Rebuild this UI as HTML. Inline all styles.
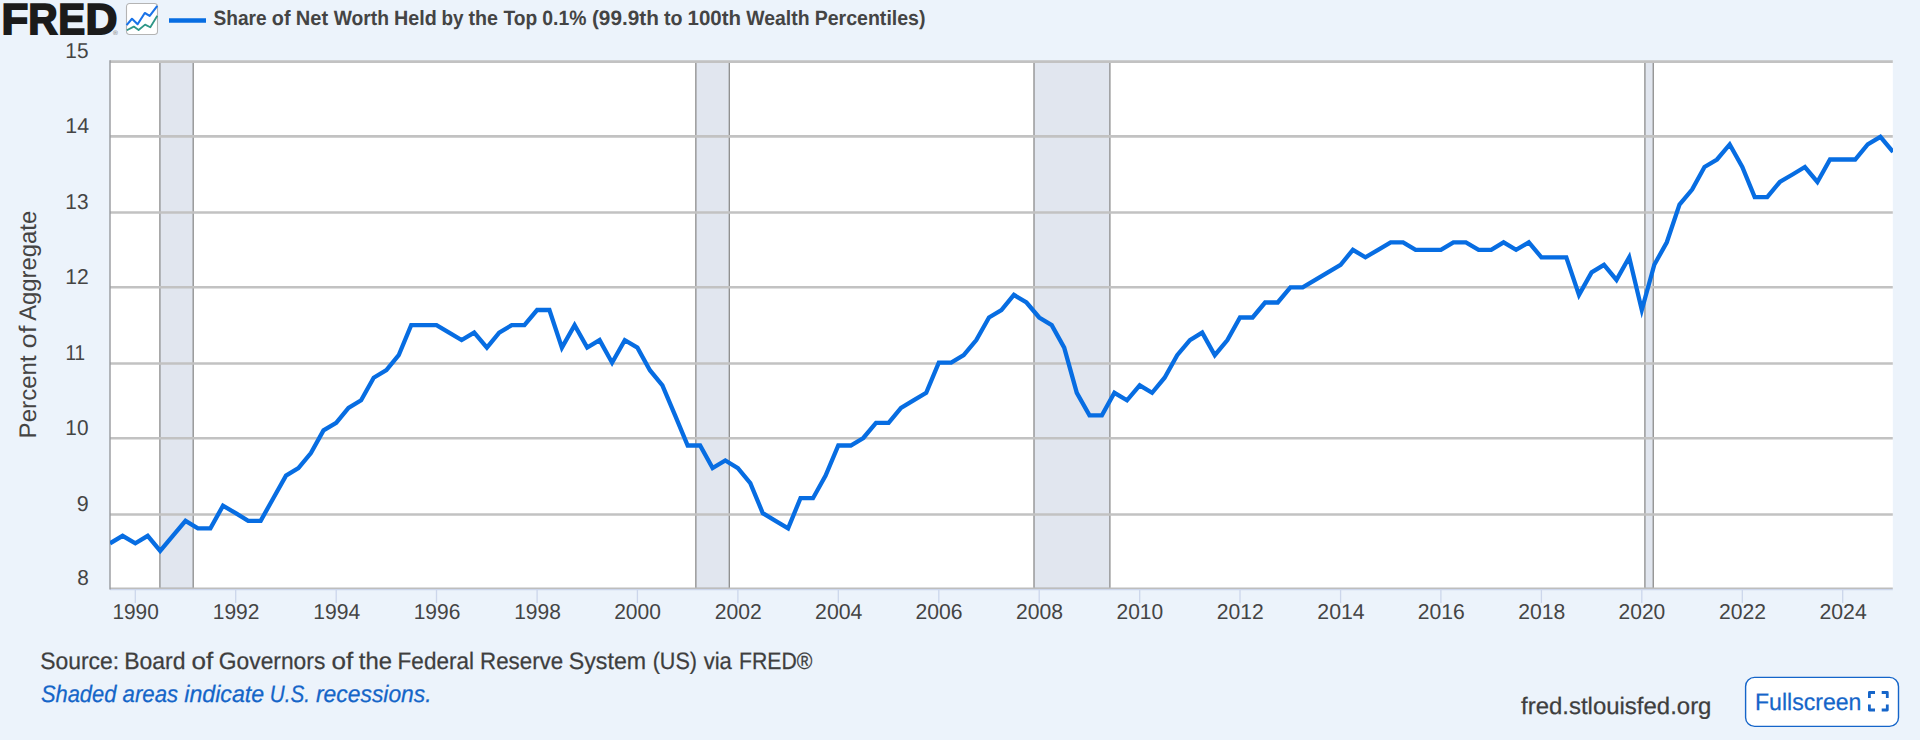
<!DOCTYPE html>
<html lang="en">
<head>
<meta charset="utf-8">
<title>Share of Net Worth Held by the Top 0.1% | FRED</title>
<style>
html,body{margin:0;padding:0;}
body{width:1920px;height:740px;overflow:hidden;background:#ecf3fb;font-family:"Liberation Sans",sans-serif;position:relative;}
#chart{position:absolute;left:0;top:0;width:1920px;height:740px;display:block;}
#chart text{font-family:"Liberation Sans",sans-serif;text-rendering:geometricPrecision;}
#fullscreen{position:absolute;left:1745px;top:676.5px;width:154px;height:50.5px;box-sizing:border-box;border:0;border-radius:9.5px;background:#fff;padding:0;margin:0;}
</style>
</head>
<body>
<button id="fullscreen" type="button" aria-label="Fullscreen"></button>
<svg id="chart" width="1920" height="740" viewBox="0 0 1920 740">
  <!-- header -->
  <g id="logo">
    <text y="33.8" font-weight="700" font-size="43.3" fill="#1b1b1b" stroke="#1b1b1b" stroke-width="1.8"><tspan x="1.58" textLength="26.82" lengthAdjust="spacingAndGlyphs">F</tspan><tspan x="28.34" textLength="29.45" lengthAdjust="spacingAndGlyphs">R</tspan><tspan x="58.37" textLength="26.92" lengthAdjust="spacingAndGlyphs">E</tspan><tspan x="85.60" textLength="31.96" lengthAdjust="spacingAndGlyphs">D</tspan></text>
    <text x="113" y="35" font-size="6.5" fill="#777">®</text>
  </g>
  <g id="icon">
    <rect x="126.5" y="3.5" width="31" height="31" rx="3.2" fill="#fff" stroke="#b4b4b4" stroke-width="1.1"/>
    <polyline points="126.6,25.1 132,18.8 137.6,24.2 144.8,13 149.7,15.9 157.3,5.9" fill="none" stroke="#1a73e8" stroke-width="2.1" stroke-linejoin="round"/>
    <polyline points="126.8,30.3 133.8,26.6 138.6,30 145.1,24.6 150.3,27.3 157.3,15.7" fill="none" stroke="#2e9687" stroke-width="1.8" stroke-linejoin="round"/>
  </g>
  <line x1="169" x2="206" y1="20.5" y2="20.5" stroke="#076de2" stroke-width="4.6"/>
  <text y="24.7" font-weight="700" font-size="20.7" fill="#444"><tspan x="213.55" textLength="53.10" lengthAdjust="spacingAndGlyphs">Share</tspan> <tspan x="271.79" textLength="18.70" lengthAdjust="spacingAndGlyphs">of</tspan> <tspan x="295.80" textLength="32.33" lengthAdjust="spacingAndGlyphs">Net</tspan> <tspan x="333.66" textLength="55.33" lengthAdjust="spacingAndGlyphs">Worth</tspan> <tspan x="394.10" textLength="42.75" lengthAdjust="spacingAndGlyphs">Held</tspan> <tspan x="441.44" textLength="22.09" lengthAdjust="spacingAndGlyphs">by</tspan> <tspan x="468.50" textLength="29.48" lengthAdjust="spacingAndGlyphs">the</tspan> <tspan x="503.40" textLength="33.74" lengthAdjust="spacingAndGlyphs">Top</tspan> <tspan x="542.29" textLength="44.12" lengthAdjust="spacingAndGlyphs">0.1%</tspan> <tspan x="591.96" textLength="66.92" lengthAdjust="spacingAndGlyphs">(99.9th</tspan> <tspan x="663.88" textLength="18.52" lengthAdjust="spacingAndGlyphs">to</tspan> <tspan x="687.54" textLength="53.46" lengthAdjust="spacingAndGlyphs">100th</tspan> <tspan x="746.33" textLength="63.22" lengthAdjust="spacingAndGlyphs">Wealth</tspan> <tspan x="814.68" textLength="110.83" lengthAdjust="spacingAndGlyphs">Percentiles)</tspan></text>
  <!-- plot -->
  <rect x="110" y="61.6" width="1782.8" height="526.9" fill="#fff"/>
  <g fill="#e1e6ef" stroke="#8c8c8c" stroke-width="1.3"><rect x="159.90" y="61.6" width="33.30" height="526.9"/><rect x="695.85" y="61.6" width="33.45" height="526.9"/><rect x="1034.00" y="61.6" width="75.90" height="526.9"/><rect x="1644.90" y="61.6" width="8.35" height="526.9"/></g>
  <g stroke="#c2c2c2" stroke-width="2.6"><line x1="110.0" x2="1892.8" y1="514.5" y2="514.5"/><line x1="110.0" x2="1892.8" y1="438.3" y2="438.3"/><line x1="110.0" x2="1892.8" y1="363.5" y2="363.5"/><line x1="110.0" x2="1892.8" y1="287.3" y2="287.3"/><line x1="110.0" x2="1892.8" y1="212.5" y2="212.5"/><line x1="110.0" x2="1892.8" y1="136.4" y2="136.4"/><line x1="110.0" x2="1892.8" y1="61.6" y2="61.6"/></g>
  <line x1="110" x2="1892.8" y1="588.2" y2="588.2" stroke="#bdbdbd" stroke-width="1.4"/>
  <line x1="110" x2="1892.8" y1="589.6" y2="589.6" stroke="#ccd6eb" stroke-width="1.3"/>
  <line x1="110" x2="110" y1="60.3" y2="589.6" stroke="#97999d" stroke-width="1.4"/>
  <g stroke="#ccd6eb" stroke-width="1.3"><line x1="135.3" x2="135.3" y1="590" y2="603"/><line x1="235.7" x2="235.7" y1="590" y2="603"/><line x1="336.2" x2="336.2" y1="590" y2="603"/><line x1="436.5" x2="436.5" y1="590" y2="603"/><line x1="537.1" x2="537.1" y1="590" y2="603"/><line x1="637.4" x2="637.4" y1="590" y2="603"/><line x1="737.9" x2="737.9" y1="590" y2="603"/><line x1="838.3" x2="838.3" y1="590" y2="603"/><line x1="938.8" x2="938.8" y1="590" y2="603"/><line x1="1039.2" x2="1039.2" y1="590" y2="603"/><line x1="1139.7" x2="1139.7" y1="590" y2="603"/><line x1="1240.0" x2="1240.0" y1="590" y2="603"/><line x1="1340.6" x2="1340.6" y1="590" y2="603"/><line x1="1440.9" x2="1440.9" y1="590" y2="603"/><line x1="1541.4" x2="1541.4" y1="590" y2="603"/><line x1="1641.8" x2="1641.8" y1="590" y2="603"/><line x1="1742.3" x2="1742.3" y1="590" y2="603"/><line x1="1842.7" x2="1842.7" y1="590" y2="603"/></g>
  <clipPath id="plotclip"><rect x="110" y="55" width="1783" height="540"/></clipPath>
  <path d="M110.0 543.3 L122.6 535.8 L135.3 543.3 L147.7 535.8 L160.2 550.9 L172.8 535.8 L185.5 520.8 L197.9 528.3 L210.4 528.3 L223.0 505.7 L235.7 513.2 L248.2 520.8 L260.7 520.8 L273.3 498.2 L286.0 475.6 L298.4 468.1 L310.9 453.0 L323.5 430.4 L336.2 422.9 L348.5 407.9 L361.1 400.3 L373.7 377.7 L386.4 370.2 L398.7 355.2 L411.2 325.1 L423.9 325.1 L436.5 325.1 L449.1 332.6 L461.6 340.1 L474.2 332.6 L486.9 347.6 L499.2 332.6 L511.8 325.1 L524.4 325.1 L537.1 310.0 L549.4 310.0 L561.9 347.6 L574.6 325.1 L587.2 347.6 L599.6 340.1 L612.1 362.7 L624.8 340.1 L637.4 347.6 L649.9 370.2 L662.4 385.3 L675.1 415.4 L687.7 445.5 L700.1 445.5 L712.6 468.1 L725.3 460.5 L737.9 468.1 L750.3 483.1 L762.8 513.2 L775.5 520.8 L788.1 528.3 L800.5 498.2 L813.0 498.2 L825.6 475.6 L838.3 445.5 L850.8 445.5 L863.3 438.0 L876.0 422.9 L888.6 422.9 L901.0 407.9 L913.5 400.3 L926.2 392.8 L938.8 362.7 L951.2 362.7 L963.7 355.2 L976.3 340.1 L989.0 317.5 L1001.4 310.0 L1013.9 294.9 L1026.5 302.5 L1039.2 317.5 L1051.7 325.1 L1064.2 347.6 L1076.8 392.8 L1089.5 415.4 L1101.9 415.4 L1114.4 392.8 L1127.0 400.3 L1139.7 385.3 L1152.1 392.8 L1164.6 377.7 L1177.2 355.2 L1189.9 340.1 L1202.2 332.6 L1214.8 355.2 L1227.4 340.1 L1240.0 317.5 L1252.6 317.5 L1265.1 302.5 L1277.7 302.5 L1290.4 287.4 L1302.7 287.4 L1315.3 279.9 L1327.9 272.4 L1340.6 264.8 L1352.9 249.8 L1365.4 257.3 L1378.1 249.8 L1390.7 242.3 L1403.1 242.3 L1415.6 249.8 L1428.3 249.8 L1440.9 249.8 L1453.4 242.3 L1465.9 242.3 L1478.6 249.8 L1491.2 249.8 L1503.6 242.3 L1516.1 249.8 L1528.8 242.3 L1541.4 257.3 L1553.8 257.3 L1566.3 257.3 L1579.0 294.9 L1591.6 272.4 L1604.0 264.8 L1616.5 279.9 L1629.2 257.3 L1641.8 310.0 L1654.3 264.8 L1666.8 242.3 L1679.5 204.6 L1692.1 189.6 L1704.5 167.0 L1717.0 159.5 L1729.7 144.4 L1742.3 167.0 L1754.7 197.1 L1767.2 197.1 L1779.8 182.0 L1792.5 174.5 L1804.9 167.0 L1817.4 182.0 L1830.0 159.5 L1842.7 159.5 L1855.2 159.5 L1867.7 144.4 L1880.4 136.9 L1893.0 151.9" fill="none" stroke="#076de2" stroke-width="4.3" stroke-linejoin="miter" stroke-miterlimit="10" clip-path="url(#plotclip)"/>
  <g font-size="21.6" fill="#444"><text y="585.25"><tspan x="77.23" textLength="11.57" lengthAdjust="spacingAndGlyphs">8</tspan></text>
    <text y="511.25"><tspan x="76.87" textLength="11.95" lengthAdjust="spacingAndGlyphs">9</tspan></text>
    <text y="435.05"><tspan x="65.34" textLength="23.14" lengthAdjust="spacingAndGlyphs">10</tspan></text>
    <text y="360.25"><tspan x="65.45" textLength="19.70" lengthAdjust="spacingAndGlyphs">11</tspan></text>
    <text y="284.05"><tspan x="65.32" textLength="23.49" lengthAdjust="spacingAndGlyphs">12</tspan></text>
    <text y="209.25"><tspan x="65.34" textLength="23.14" lengthAdjust="spacingAndGlyphs">13</tspan></text>
    <text y="133.15"><tspan x="65.30" textLength="23.84" lengthAdjust="spacingAndGlyphs">14</tspan></text>
    <text y="58.35"><tspan x="65.34" textLength="23.14" lengthAdjust="spacingAndGlyphs">15</tspan></text>
    </g>
  <g font-size="21.6" fill="#444"><text y="618.5"><tspan x="112.42" textLength="46.35" lengthAdjust="spacingAndGlyphs">1990</tspan></text>
    <text y="618.5"><tspan x="212.78" textLength="46.69" lengthAdjust="spacingAndGlyphs">1992</tspan></text>
    <text y="618.5"><tspan x="313.28" textLength="47.03" lengthAdjust="spacingAndGlyphs">1994</tspan></text>
    <text y="618.5"><tspan x="413.65" textLength="46.69" lengthAdjust="spacingAndGlyphs">1996</tspan></text>
    <text y="618.5"><tspan x="514.16" textLength="46.69" lengthAdjust="spacingAndGlyphs">1998</tspan></text>
    <text y="618.5"><tspan x="614.21" textLength="46.68" lengthAdjust="spacingAndGlyphs">2000</tspan></text>
    <text y="618.5"><tspan x="714.71" textLength="47.03" lengthAdjust="spacingAndGlyphs">2002</tspan></text>
    <text y="618.5"><tspan x="815.08" textLength="47.35" lengthAdjust="spacingAndGlyphs">2004</tspan></text>
    <text y="618.5"><tspan x="915.59" textLength="47.03" lengthAdjust="spacingAndGlyphs">2006</tspan></text>
    <text y="618.5"><tspan x="1015.96" textLength="47.03" lengthAdjust="spacingAndGlyphs">2008</tspan></text>
    <text y="618.5"><tspan x="1116.47" textLength="46.68" lengthAdjust="spacingAndGlyphs">2010</tspan></text>
    <text y="618.5"><tspan x="1216.83" textLength="47.03" lengthAdjust="spacingAndGlyphs">2012</tspan></text>
    <text y="618.5"><tspan x="1317.33" textLength="47.35" lengthAdjust="spacingAndGlyphs">2014</tspan></text>
    <text y="618.5"><tspan x="1417.71" textLength="47.03" lengthAdjust="spacingAndGlyphs">2016</tspan></text>
    <text y="618.5"><tspan x="1518.22" textLength="47.03" lengthAdjust="spacingAndGlyphs">2018</tspan></text>
    <text y="618.5"><tspan x="1618.59" textLength="46.68" lengthAdjust="spacingAndGlyphs">2020</tspan></text>
    <text y="618.5"><tspan x="1719.09" textLength="47.03" lengthAdjust="spacingAndGlyphs">2022</tspan></text>
    <text y="618.5"><tspan x="1819.46" textLength="47.35" lengthAdjust="spacingAndGlyphs">2024</tspan></text>
    </g>
  <g font-size="24" fill="#444"><text transform="translate(36.1,324.15) rotate(-90)" y="0"><tspan x="-114.26" textLength="83.13" lengthAdjust="spacingAndGlyphs">Percent</tspan> <tspan x="-24.43" textLength="22.88" lengthAdjust="spacingAndGlyphs">of</tspan> <tspan x="3.35" textLength="109.99" lengthAdjust="spacingAndGlyphs">Aggregate</tspan></text></g>
  <!-- footer -->
  <rect x="1745.6" y="677.4" width="152.9" height="49" rx="9" fill="#fff" stroke="#1565c9" stroke-width="1.4"/>
  <g font-size="23.8" fill="#3e3e3e" stroke="#3e3e3e" stroke-width="0.25">
    <text y="668.9"><tspan x="40.18" textLength="78.95" lengthAdjust="spacingAndGlyphs">Source:</tspan> <tspan x="124.18" textLength="61.32" lengthAdjust="spacingAndGlyphs">Board</tspan> <tspan x="191.43" textLength="21.75" lengthAdjust="spacingAndGlyphs">of</tspan> <tspan x="218.83" textLength="106.49" lengthAdjust="spacingAndGlyphs">Governors</tspan> <tspan x="331.43" textLength="21.75" lengthAdjust="spacingAndGlyphs">of</tspan> <tspan x="358.80" textLength="33.21" lengthAdjust="spacingAndGlyphs">the</tspan> <tspan x="397.62" textLength="76.35" lengthAdjust="spacingAndGlyphs">Federal</tspan> <tspan x="480.04" textLength="83.16" lengthAdjust="spacingAndGlyphs">Reserve</tspan> <tspan x="568.81" textLength="77.31" lengthAdjust="spacingAndGlyphs">System</tspan> <tspan x="652.69" textLength="44.32" lengthAdjust="spacingAndGlyphs">(US)</tspan> <tspan x="703.63" textLength="28.22" lengthAdjust="spacingAndGlyphs">via</tspan> <tspan x="738.99" textLength="73.44" lengthAdjust="spacingAndGlyphs">FRED®</tspan></text>
    <text y="702.2" font-style="italic" fill="#1465c8" stroke="#1465c8"><tspan x="40.91" textLength="75.48" lengthAdjust="spacingAndGlyphs">Shaded</tspan> <tspan x="122.61" textLength="55.50" lengthAdjust="spacingAndGlyphs">areas</tspan> <tspan x="184.26" textLength="79.94" lengthAdjust="spacingAndGlyphs">indicate</tspan> <tspan x="269.87" textLength="40.18" lengthAdjust="spacingAndGlyphs">U.S.</tspan> <tspan x="315.99" textLength="115.61" lengthAdjust="spacingAndGlyphs">recessions.</tspan></text>
    <text y="713.75"><tspan x="1521.00" textLength="190.43" lengthAdjust="spacingAndGlyphs">fred.stlouisfed.org</tspan></text>
    <text y="709.9" fill="#1565c9" stroke="#1565c9"><tspan x="1755.00" textLength="106.42" lengthAdjust="spacingAndGlyphs">Fullscreen</tspan></text>
  </g>
  <path d="M1869.4 698 V692.5 H1875 M1881.7 692.5 H1887.3 V698 M1887.3 704.5 V710 H1881.7 M1875 710 H1869.4 V704.5" fill="none" stroke="#1565c9" stroke-width="2.8" stroke-linejoin="round"/>
</svg>
</body>
</html>
